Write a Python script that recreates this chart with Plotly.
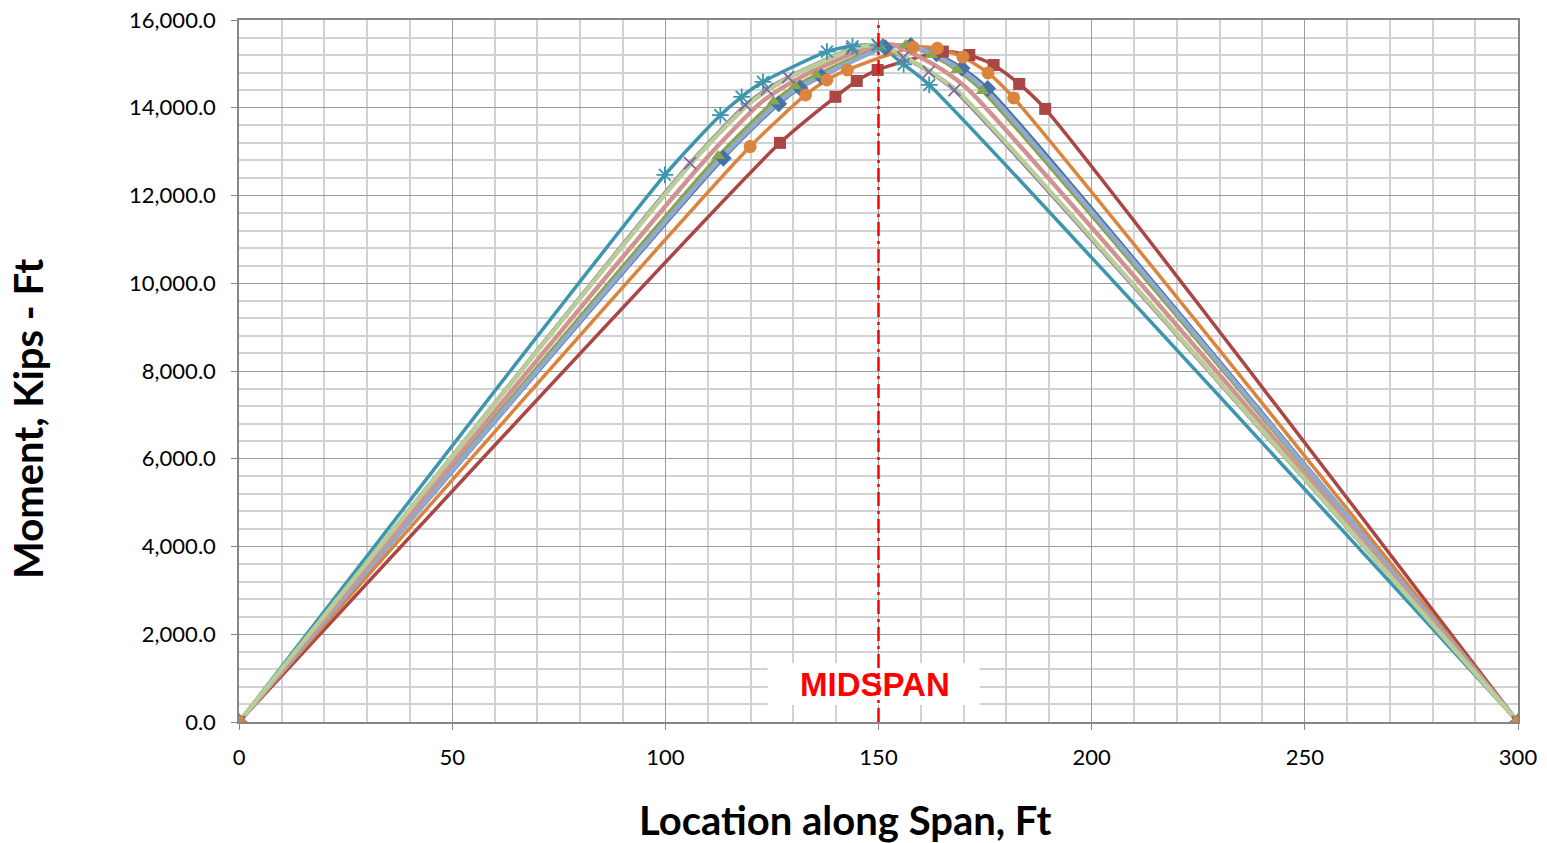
import plotly.graph_objects as go

# location along span (ft) and moment (kip-ft) for each truck position
teal_x = [0, 99.9, 112.9, 117.9, 122.9, 137.9, 143.9, 149.9, 155.9, 161.9, 300]
teal_y = [0, 12470, 13830, 14250, 14590, 15280, 15400, 15420, 14990, 14520, 0]

orange_x = [0, 119.9, 132.9, 137.9, 142.7, 158.1, 163.8, 169.8, 175.7, 181.7, 300]
orange_y = [0, 13116, 14292, 14634, 14861, 15380, 15355, 15157, 14793, 14224, 0]

red_x = [0, 126.9, 139.9, 144.9, 149.8, 165.1, 171.3, 177.0, 183.0, 189.1, 300]
red_y = [0, 13200, 14250, 14611, 14861, 15280, 15202, 14975, 14543, 13974, 0]

green_x = [0, 112.4, 125.4, 130.4, 135.4, 150.4, 156.4, 162.4, 168.4, 174.4, 300]
green_y = [0, 12900, 14140, 14497, 14747, 15380, 15430, 15200, 14861, 14383, 0]

blue_x = [0, 113.6, 126.6, 131.6, 136.6, 151.6, 157.6, 163.6, 169.6, 175.6, 300]
blue_y = [0, 12850, 14090, 14450, 14710, 15370, 15420, 15230, 14900, 14440, 0]

purple_x = [0, 105.8, 118.8, 123.8, 128.8, 143.8, 149.8, 155.8, 161.8, 167.8, 300]
purple_y = [0, 12740, 14060, 14420, 14700, 15350, 15440, 15150, 14820, 14400, 0]

pink_x = [0, 109.2, 122.2, 127.2, 132.2, 147.2, 153.2, 159.2, 165.2, 171.2, 300]
pink_y = [0, 12800, 14100, 14440, 14720, 15360, 15440, 15180, 14850, 14400, 0]

lgreen_x = [0, 106.5, 119.5, 124.5, 129.5, 144.5, 150.5, 156.5, 162.5, 168.5, 300]
lgreen_y = [0, 12780, 14080, 14430, 14710, 15360, 15440, 15140, 14800, 14380, 0]

lblue_x = [0, 113.0, 126.0, 131.0, 136.0, 151.0, 157.0, 163.0, 169.0, 175.0, 300]
lblue_y = [0, 12840, 14080, 14440, 14700, 15360, 15420, 15220, 14880, 14420, 0]

midspan = 150

# (x, y, color, line width, marker symbol, marker size)
series = [
    (blue_x, blue_y, '#4572A7', 3.5, 'diamond', 13),
    (red_x, red_y, '#AA4643', 3.5, 'square', 12),
    (green_x, green_y, '#89A54E', 3.5, 'triangle-up', 12),
    (purple_x, purple_y, '#80699B', 3.5, 'x-thin-open', 12),
    (teal_x, teal_y, '#3D96AE', 3.5, 'asterisk-open', 14),
    (orange_x, orange_y, '#DB843D', 3.5, 'circle', 13),
    (lblue_x, lblue_y, '#92A8CD', 4.5, None, 0),
    (pink_x, pink_y, '#D19392', 4.5, None, 0),
    (lgreen_x, lgreen_y, '#B9CD96', 4.5, None, 0),
]

fig = go.Figure()

# lines first, markers on top (like excel)
for sx, sy, c, w, sym, sz in series:
    fig.add_trace(go.Scatter(x=sx, y=sy, mode='lines',
                             line=dict(color=c, width=w, shape='spline', smoothing=0.6),
                             showlegend=False, hoverinfo='skip'))
for sx, sy, c, w, sym, sz in series:
    if sym is None:
        continue
    open_sym = sym.endswith('open')
    fig.add_trace(go.Scatter(x=sx, y=sy, mode='markers',
                             marker=dict(symbol=sym, size=sz, color=c,
                                         line=dict(color=c, width=1.8 if open_sym else 0)),
                             showlegend=False))

# white box behind the label, then the midspan line
fig.add_shape(type='rect', xref='x', yref='y', x0=124, x1=173.7, y0=390, y1=1340,
              fillcolor='white', line=dict(width=0), layer='between')
fig.add_shape(type='line', xref='x', yref='y', x0=midspan, x1=midspan, y0=0, y1=16000,
              line=dict(color='#FF0000', width=2.5, dash='14px,5px,3px,5px'), layer='above')
fig.add_annotation(x=midspan, y=866, xref='x', yref='y', text='<b>MIDSPAN</b>',
                   showarrow=False, xshift=-4,
                   font=dict(family='Liberation Sans', size=33, color='#FF0000'))

fig.add_annotation(x=0.4742, y=0, xref='paper', yref='paper', yshift=-98,
                   xanchor='center', yanchor='middle',
                   text='<b>Location along Span, Ft</b>', showarrow=False,
                   font=dict(family='Lato', size=40, color='black'))
fig.add_annotation(x=0, y=0.4316, xref='paper', yref='paper', xshift=-211,
                   xanchor='center', yanchor='middle',
                   text='<b>Moment, Kips - Ft</b>', showarrow=False, textangle=-90,
                   font=dict(family='Lato', size=40, color='black'))

fig.update_xaxes(range=[0, 300], dtick=50, tick0=0, showgrid=True, gridcolor='#9C9C9C', gridwidth=1,
                 minor=dict(dtick=10, showgrid=True, gridcolor='#D2D2D2', gridwidth=1.5),
                 showline=True, linecolor='#868686', linewidth=1.5, mirror=True,
                 ticks='outside', ticklen=6, tickcolor='#868686', ticklabelstandoff=9,
                 ticklabeloverflow='allow',
                 tickfont=dict(family='Lato', size=22, color='black'), zeroline=False)
fig.update_yaxes(range=[0, 16000], dtick=2000, tick0=0, showgrid=True, gridcolor='#9C9C9C', gridwidth=1,
                 minor=dict(dtick=400, showgrid=True, gridcolor='#D2D2D2', gridwidth=1.5),
                 showline=True, linecolor='#868686', linewidth=1.5, mirror=True,
                 ticks='outside', ticklen=6, tickcolor='#868686', tickformat=',.1f',
                 ticklabelstandoff=11, ticklabeloverflow='allow',
                 tickfont=dict(family='Lato', size=22, color='black'), zeroline=False)

fig.update_layout(width=1547, height=843, plot_bgcolor='white', paper_bgcolor='white',
                  margin=dict(l=239, r=29, t=20, b=121, autoexpand=False),
                  showlegend=False)

# drop the default 8px page margin so the figure fills the window
fig.write_html('out.html', config={'displayModeBar': False},
               post_script="document.body.style.margin='0';")
